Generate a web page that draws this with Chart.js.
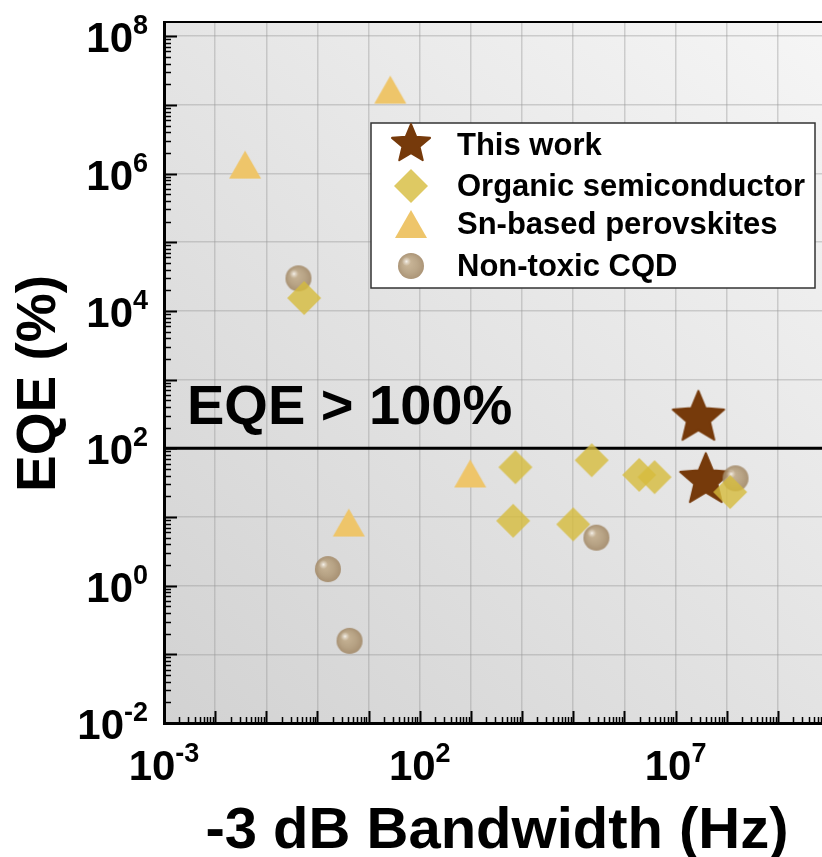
<!DOCTYPE html>
<html>
<head>
<meta charset="utf-8">
<script src="https://cdn.jsdelivr.net/npm/chart.js@4/dist/chart.umd.min.js"></script>
<style>
html, body { margin: 0; padding: 0; background: #fff; overflow: hidden; }
#wrap { width: 822px; height: 857px; overflow: hidden; }
#wrap canvas { display: block; }
</style>
</head>
<body>
<div id="wrap"><canvas id="myChart" width="850" height="857"></canvas></div>
<script>
// DATA
var seriesNames = ['This work', 'Organic semiconductor', 'Sn-based perovskites', 'Non-toxic CQD']

var thisWorkX = [2.8e7, 3.9e7]
var thisWorkY = [290, 36]

var organicX = [0.55, 7.4e3, 6.7e3, 1.0e5, 2.3e5, 1.95e6, 3.9e6, 1.17e8]
var organicY = [1.54e4, 53, 8.8, 7.8, 67, 41, 38, 23]

var snX = [0.0385, 26.5, 970, 4.1]
var snY = [1.35e6, 1.67e7, 43, 8.3]

var cqdX = [0.425, 1.6, 4.24, 2.84e5, 1.49e8]
var cqdY = [2.98e4, 1.74, 0.157, 5.0, 36.5]

var thresholdY = 100
var thresholdLabel = 'EQE > 100%'

var xTickExps = [-3, -2, -1, 0, 1, 2, 3, 4, 5, 6, 7, 8, 9, 10]
var yTickExps = [-2, -1, 0, 1, 2, 3, 4, 5, 6, 7, 8]
var xLabelExps = [-3, 2, 7]
var yLabelExps = [-2, 0, 2, 4, 6, 8]

var xTitle = '-3 dB Bandwidth (Hz)'
var yTitle = 'EQE (%)'
// END DATA

var FONT = '"Liberation Sans", Arial, sans-serif'

function pts(xs, ys) {
    return xs.map(function (x, i) { return { x: x, y: ys[i] } })
}

// marker images
function makeStar(R, color) {
    var s = Math.ceil(R * 2 + 4), c = document.createElement('canvas')
    c.width = c.height = s
    var g = c.getContext('2d'), cx = s / 2, cy = s / 2 + R * 0.05, r = (R - 1) * 0.45
    g.beginPath()
    for (var i = 0; i < 10; i++) {
        var a = -Math.PI / 2 + i * Math.PI / 5, rr = i % 2 ? r : R - 1
        g.lineTo(cx + rr * Math.cos(a), cy + rr * Math.sin(a))
    }
    g.closePath()
    g.fillStyle = color; g.fill()
    g.lineJoin = 'round'; g.lineWidth = 2; g.strokeStyle = color; g.stroke()
    return c
}

function makeDiamond(h, color) {
    var s = Math.ceil(h * 2 + 2), c = document.createElement('canvas')
    c.width = c.height = s
    var g = c.getContext('2d'), m = s / 2
    g.beginPath()
    g.moveTo(m, m - h); g.lineTo(m + h, m); g.lineTo(m, m + h); g.lineTo(m - h, m)
    g.closePath()
    g.fillStyle = color; g.fill()
    return c
}

function makeTriangle(w, hgt, color) {
    var s = Math.ceil(Math.max(w, hgt) + 2), c = document.createElement('canvas')
    c.width = c.height = s
    var g = c.getContext('2d'), m = s / 2
    g.beginPath()
    g.moveTo(m, m - hgt / 2); g.lineTo(m + w / 2, m + hgt / 2); g.lineTo(m - w / 2, m + hgt / 2)
    g.closePath()
    g.fillStyle = color; g.fill()
    return c
}

function makeSphere(r) {
    var s = Math.ceil(r * 2 + 2), c = document.createElement('canvas')
    c.width = c.height = s
    var g = c.getContext('2d'), m = s / 2
    g.globalAlpha = 0.88
    var grd = g.createRadialGradient(m - r * 0.3, m - r * 0.3, 1, m, m, r)
    grd.addColorStop(0, '#c4ae8c')
    grd.addColorStop(0.6, '#b19a78')
    grd.addColorStop(1, '#a08664')
    g.beginPath(); g.arc(m, m, r, 0, Math.PI * 2); g.fillStyle = grd; g.fill()
    var hl = g.createRadialGradient(m - r * 0.35, m - r * 0.35, 0, m - r * 0.35, m - r * 0.35, r * 0.35)
    hl.addColorStop(0, 'rgba(255,255,255,0.9)')
    hl.addColorStop(0.4, 'rgba(255,255,255,0.45)')
    hl.addColorStop(1, 'rgba(255,255,255,0)')
    g.beginPath(); g.arc(m - r * 0.35, m - r * 0.35, r * 0.35, 0, Math.PI * 2); g.fillStyle = hl; g.fill()
    return c
}

var starImg = makeStar(28, '#763a0b')
var starLegendImg = makeStar(21, '#763a0b')
var diamondImg = makeDiamond(17, 'rgba(214,188,60,0.8)')
var diamondLegendImg = makeDiamond(17, 'rgba(214,188,60,0.8)')
var triImg = makeTriangle(32, 28, '#eec56a')
var sphereImg = makeSphere(13)

var legendImgs = [starLegendImg, diamondLegendImg, triImg, sphereImg]

function drawPow(ctx, exp, x, y, align) {
    var base = '10', sup = String(exp)
    ctx.font = 'bold 42px ' + FONT
    var wb = ctx.measureText(base).width
    ctx.font = 'bold 27px ' + FONT
    var ws = ctx.measureText(sup).width
    var x0 = align === 'right' ? x - wb - ws : x - (wb + ws) / 2
    ctx.textAlign = 'left'
    ctx.textBaseline = 'alphabetic'
    ctx.font = 'bold 42px ' + FONT
    ctx.fillText(base, x0, y)
    ctx.font = 'bold 27px ' + FONT
    ctx.fillText(sup, x0 + wb, y - 18)
}

var decor = {
    id: 'decor',
    beforeDraw: function (chart) {
        var a = chart.chartArea, ctx = chart.ctx
        ctx.save()
        var grd = ctx.createLinearGradient(a.left, a.bottom, a.left + 700, a.top - 50)
        grd.addColorStop(0, '#d2d2d2')
        grd.addColorStop(1, '#f8f8f8')
        ctx.fillStyle = grd
        ctx.fillRect(a.left, a.top, a.right - a.left, a.bottom - a.top)
        ctx.restore()
    },
    afterDraw: function (chart) {
        var a = chart.chartArea, ctx = chart.ctx
        var xs = chart.scales.x, ys = chart.scales.y
        ctx.save()
        ctx.strokeStyle = '#000'
        ctx.fillStyle = '#000'

        // top frame line
        ctx.lineWidth = 2
        ctx.beginPath(); ctx.moveTo(a.left, a.top); ctx.lineTo(a.right + 5, a.top); ctx.stroke()

        // inward ticks, y
        yTickExps.forEach(function (e) {
            for (var k = 1; k <= 9; k++) {
                var v = k * Math.pow(10, e)
                if (v > ys.max) break
                var py = Math.round(ys.getPixelForValue(v)) + 0.5
                ctx.lineWidth = k === 1 ? 2 : 1.5
                ctx.beginPath(); ctx.moveTo(a.left, py); ctx.lineTo(a.left + (k === 1 ? 13 : 7), py); ctx.stroke()
            }
        })
        // inward ticks, x
        xTickExps.forEach(function (e) {
            for (var k = 1; k <= 9; k++) {
                var v = k * Math.pow(10, e)
                if (v > xs.max) break
                var px = Math.round(xs.getPixelForValue(v)) + 0.5
                ctx.lineWidth = k === 1 ? 2 : 1.5
                ctx.beginPath(); ctx.moveTo(px, a.bottom); ctx.lineTo(px, a.bottom - (k === 1 ? 12 : 6)); ctx.stroke()
            }
        })

        // tick labels
        yLabelExps.forEach(function (e) {
            drawPow(ctx, e, 148, ys.getPixelForValue(Math.pow(10, e)) + 16, 'right')
        })
        xLabelExps.forEach(function (e) {
            drawPow(ctx, e, xs.getPixelForValue(Math.pow(10, e)), 780, 'center')
        })

        // axis titles
        ctx.font = 'bold 58px ' + FONT
        ctx.textAlign = 'center'
        ctx.textBaseline = 'alphabetic'
        ctx.fillText(xTitle, 497, 848)
        ctx.save()
        ctx.translate(55, 383.5)
        ctx.rotate(-Math.PI / 2)
        ctx.font = 'bold 55px ' + FONT
        ctx.fillText(yTitle, 0, 0)
        ctx.restore()

        // threshold label
        ctx.font = 'bold 56px ' + FONT
        ctx.textAlign = 'left'
        ctx.fillText(thresholdLabel, 187, ys.getPixelForValue(thresholdY) - 24)

        // legend
        var lx = 371, ly = 123, lw = 444, lh = 165
        ctx.fillStyle = '#fff'
        ctx.fillRect(lx, ly, lw, lh)
        ctx.lineWidth = 1.5
        ctx.strokeStyle = '#333'
        ctx.strokeRect(lx, ly, lw, lh)
        var rowY = [145, 186, 224, 266]
        ctx.fillStyle = '#000'
        ctx.font = 'bold 31px ' + FONT
        ctx.textBaseline = 'middle'
        seriesNames.forEach(function (name, i) {
            var img = legendImgs[i]
            ctx.drawImage(img, 411 - img.width / 2, rowY[i] - img.height / 2 - (i === 0 ? 2 : 0))
            ctx.fillText(name, 457, rowY[i] + 1)
        })
        ctx.restore()
    }
}

new Chart("myChart", {
    type: "scatter",
    data: {
        datasets: [{
            label: seriesNames[1],
            data: pts(organicX, organicY),
            pointStyle: diamondImg,
            order: 1
        }, {
            label: seriesNames[2],
            data: pts(snX, snY),
            pointStyle: triImg,
            order: 2
        }, {
            label: seriesNames[3],
            data: pts(cqdX, cqdY),
            pointStyle: sphereImg,
            order: 3
        }, {
            label: seriesNames[0],
            data: pts(thisWorkX, thisWorkY),
            pointStyle: starImg,
            order: 4
        }, {
            label: 'threshold',
            data: [{ x: 1e-3, y: thresholdY }, { x: 1e10, y: thresholdY }],
            showLine: true,
            borderColor: '#000',
            borderWidth: 3,
            pointRadius: 0,
            order: 10
        }]
    },
    options: {
        responsive: false,
        animation: false,
        layout: { padding: { left: 164, top: 22, right: 21, bottom: 134 } },
        plugins: {
            legend: { display: false },
            tooltip: { enabled: false }
        },
        scales: {
            x: {
                type: 'logarithmic',
                min: 1e-3,
                max: 1e10,
                afterBuildTicks: function (s) { s.ticks = xTickExps.map(function (e) { return { value: Math.pow(10, e) } }) },
                afterFit: function (s) { s.height = 0 },
                ticks: { display: false },
                grid: { color: 'rgba(150,150,150,0.4)', lineWidth: 1.5, drawTicks: false },
                border: { display: true, color: '#000', width: 3 }
            },
            y: {
                type: 'logarithmic',
                min: 1e-2,
                max: 1.61e8,
                afterBuildTicks: function (s) { s.ticks = yTickExps.map(function (e) { return { value: Math.pow(10, e) } }) },
                afterFit: function (s) { s.width = 0 },
                ticks: { display: false },
                grid: { color: 'rgba(150,150,150,0.4)', lineWidth: 1.5, drawTicks: false },
                border: { display: true, color: '#000', width: 3 }
            }
        }
    },
    plugins: [decor]
})
</script>
</body>
</html>
